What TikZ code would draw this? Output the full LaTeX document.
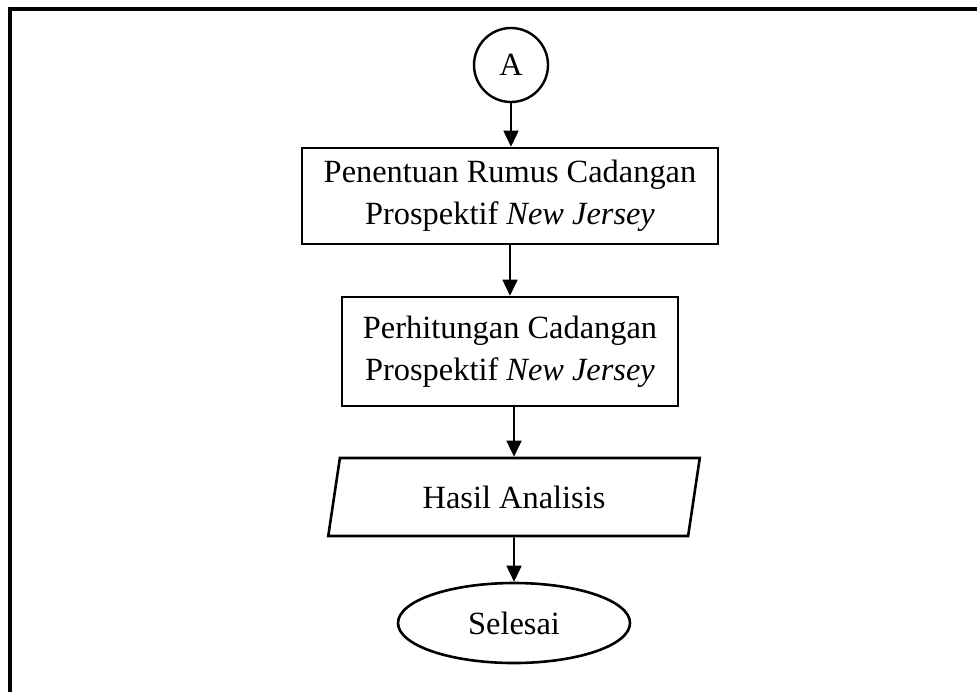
\documentclass[tikz,border=0pt]{standalone}
\usepackage{fontspec}
\setmainfont{Liberation Serif}
\usetikzlibrary{arrows.meta,shapes.geometric}
\begin{document}
\begin{tikzpicture}[x=0.5pt,y=-0.5pt,
  txt/.style={font=\fontsize{16.2}{21}\selectfont, align=center, inner sep=0pt},
  procbox/.style={txt, draw, line width=1.3pt, rectangle},
  conn/.style={line width=0.85pt, -{Triangle[length=8pt,width=7.5pt]}},
  frameline/.style={line width=1.65pt}]
\useasboundingbox (0,0) rectangle (977,691);
\draw[frameline] (10,700) -- (10,9) -- (985,9);
\node[txt, draw, line width=1.2pt, circle, minimum size=37pt] (A) at (511,65) {A};
\node[procbox, minimum width=208pt, minimum height=48pt] (b1) at (510,196)
  {Penentuan Rumus Cadangan\\Prospektif \textit{New Jersey}};
\node[procbox, minimum width=168pt, minimum height=54.5pt] (b2) at (510,351.5)
  {Perhitungan Cadangan\\Prospektif \textit{New Jersey}};
\node[txt, draw, line width=1.3pt, trapezium, trapezium left angle=75, trapezium right angle=105,
  trapezium stretches=true, minimum width=187pt, minimum height=39pt] (p) at (514,497) {Hasil Analisis};
\node[txt, draw, line width=1.3pt, ellipse, minimum width=116pt, minimum height=40pt] (e) at (514,623) {Selesai};
\draw[conn] (A.south) -- (A.south |- b1.north);
\draw[conn] (b1.south) -- (b2.north);
\draw[conn] (b2.south -| p.north) -- (p.north);
\draw[conn] (p.south) -- (e.north);
\end{tikzpicture}
\end{document}
